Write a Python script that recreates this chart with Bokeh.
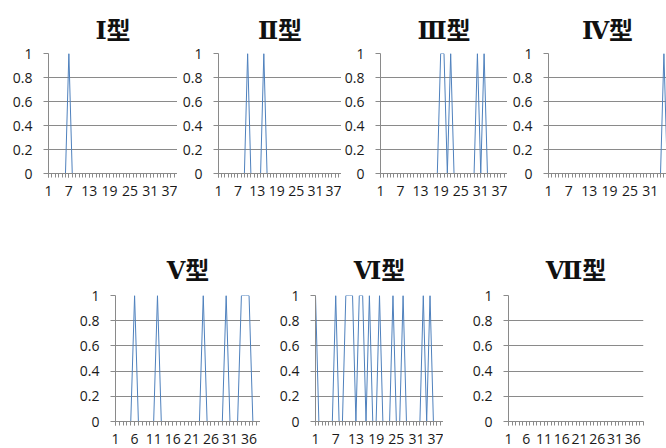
from bokeh.plotting import figure
from bokeh.layouts import row, column
from bokeh.models import Range1d, FixedTicker, NumeralTickFormatter
from bokeh.embed import file_html
from bokeh.resources import INLINE

# item numbers 1..39 on the category axis
items = list(range(1, 40))

# 0/1 indicator per item for each type
type_I = [0, 0, 0, 0, 0, 0, 1, 0, 0, 0,
          0, 0, 0, 0, 0, 0, 0, 0, 0, 0,
          0, 0, 0, 0, 0, 0, 0, 0, 0, 0,
          0, 0, 0, 0, 0, 0, 0, 0, 0]
type_II = [0, 0, 0, 0, 0, 0, 0, 0, 0, 1,
           0, 0, 0, 0, 1, 0, 0, 0, 0, 0,
           0, 0, 0, 0, 0, 0, 0, 0, 0, 0,
           0, 0, 0, 0, 0, 0, 0, 0, 0]
type_III = [0, 0, 0, 0, 0, 0, 0, 0, 0, 0,
            0, 0, 0, 0, 0, 0, 0, 0, 1, 1,
            0, 1, 0, 0, 0, 0, 0, 0, 0, 1,
            0, 1, 0, 0, 0, 0, 0, 0, 0]
type_IV = [0, 0, 0, 0, 0, 0, 0, 0, 0, 0,
           0, 0, 0, 0, 0, 0, 0, 0, 0, 0,
           0, 0, 0, 0, 0, 0, 0, 0, 0, 0,
           0, 0, 0, 0, 1, 0, 0, 0, 0]
type_V = [0, 0, 0, 0, 0, 1, 0, 0, 0, 0,
          0, 1, 0, 0, 0, 0, 0, 0, 0, 0,
          0, 0, 0, 1, 0, 0, 0, 0, 0, 1,
          0, 0, 0, 1, 1, 1, 0, 0, 0]
type_VI = [1, 0, 0, 0, 0, 0, 1, 0, 0, 1,
           1, 1, 0, 1, 1, 0, 1, 0, 0, 1,
           0, 0, 0, 1, 0, 0, 1, 0, 0, 0,
           0, 0, 1, 0, 1, 0, 0, 0, 0]
type_VII = [0] * 39

titles = ["Ⅰ型", "Ⅱ型", "Ⅲ型", "Ⅳ型", "Ⅴ型", "Ⅵ型", "Ⅶ型"]

# labelled category ticks
ticks_every6 = [1, 7, 13, 19, 25, 31, 37]
ticks_every5 = [1, 6, 11, 16, 21, 26, 31, 36]
y_ticks = [0, 0.2, 0.4, 0.6, 0.8, 1]

LINE = "#4F81BD"
GRID = "#8A8A8A"
TEXT = "#1A1A1A"
TICK_FONT = "Open Sans"
TITLE_FONT = "DejaVu Serif, Noto Sans CJK SC"


def panel(title, values, xticks, width, height, left, right, top, bottom,
          x_end=39.0, title_offset=0, title_standoff=18):
    p = figure(width=width, height=height,
               x_range=Range1d(1, x_end), y_range=Range1d(0, 1),
               output_backend="svg", toolbar_location=None,
               min_border_left=left, min_border_right=right,
               min_border_top=top, min_border_bottom=bottom)
    p.outline_line_color = None
    p.background_fill_color = "white"
    p.border_fill_color = "white"

    p.title.text = title
    p.title.align = "center"
    p.title.text_font = TITLE_FONT
    p.title.text_font_size = "24px"
    p.title.text_font_style = "bold"
    p.title.text_color = "#111111"
    p.title.standoff = title_standoff
    p.title.offset = title_offset

    p.line(items, values, line_color=LINE, line_width=1)

    # category axis: a tick at every item, labels at a fixed interval
    xa = p.xaxis[0]
    xa.ticker = FixedTicker(ticks=xticks, minor_ticks=items)
    xa.axis_line_color = GRID
    xa.major_tick_line_color = GRID
    xa.minor_tick_line_color = GRID
    xa.major_tick_in = 0
    xa.minor_tick_in = 0
    xa.major_tick_out = 4
    xa.minor_tick_out = 4
    xa.major_label_standoff = 8
    xa.major_label_text_font = TICK_FONT
    xa.major_label_text_font_size = "14px"
    xa.major_label_text_color = TEXT

    ya = p.yaxis[0]
    ya.ticker = FixedTicker(ticks=y_ticks, minor_ticks=[])
    ya.formatter = NumeralTickFormatter(format="0.[0]")
    ya.axis_line_color = GRID
    ya.major_tick_line_color = GRID
    ya.major_tick_in = 0
    ya.major_tick_out = 5
    ya.minor_tick_line_color = None
    ya.major_label_standoff = 11
    ya.major_label_text_font = TICK_FONT
    ya.major_label_text_font_size = "14px"
    ya.major_label_text_color = TEXT

    p.xgrid.visible = False
    p.ygrid.ticker = FixedTicker(ticks=y_ticks)
    p.ygrid.grid_line_color = GRID
    p.ygrid.grid_line_width = 1
    return p


p1 = panel(titles[0], type_I, ticks_every6, 177, 240, 48, 0, 53, 67)
p2 = panel(titles[1], type_II, ticks_every6, 164, 240, 41, 0, 53, 67, title_offset=4)
p3 = panel(titles[2], type_III, ticks_every6, 166, 240, 38, 0, 53, 67, title_offset=6)
p4 = panel(titles[3], type_IV, ticks_every6, 159, 240, 41, 0, 53, 67,
           x_end=35.76, title_offset=8)

p5 = panel(titles[4], type_V, ticks_every5, 260, 208, 115, 0, 55, 27,
           title_offset=4, title_standoff=21)
p6 = panel(titles[5], type_VI, ticks_every6, 183, 208, 55, 0, 55, 27,
           title_offset=1, title_standoff=21)
p7 = panel(titles[6], type_VII, ticks_every5, 223, 208, 65, 23, 55, 27,
           title_offset=3, title_standoff=21)

layout = column(row(p1, p2, p3, p4), row(p5, p6, p7))

with open("out.html", "w") as f:
    f.write(file_html(layout, INLINE))
